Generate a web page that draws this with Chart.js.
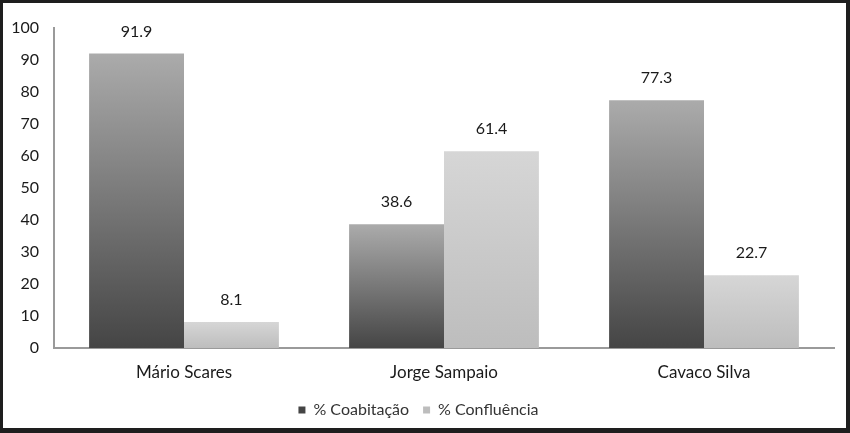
<!DOCTYPE html>
<html>
<head>
<meta charset="utf-8">
<script src="https://cdn.jsdelivr.net/npm/chart.js@4"></script>
<style>
  html, body { margin: 0; padding: 0; background: #fff; }
  #frame {
    width: 850px; height: 433px; box-sizing: border-box;
    border: 3px solid #1e1e1e; border-bottom-width: 5px; border-right-width: 4px;
    background: #fff;
  }
  #wrap { position: relative; width: 843px; height: 425px; }
</style>
</head>
<body>
<div id="frame"><div id="wrap"><canvas id="chart"></canvas></div></div>
<script>
// data
const presidents = ['Mário Scares', 'Jorge Sampaio', 'Cavaco Silva'];
const coabitacao = [91.9, 38.6, 77.3];
const confluencia = [8.1, 61.4, 22.7];
const seriesNames = ['% Coabitação', '% Confluência'];
const yTicks = [0, 10, 20, 30, 40, 50, 60, 70, 80, 90, 100];

const FONT = 'Lato, "Open Sans", sans-serif';

// per-bar vertical gradient, like the Excel fill
function barFill(topColor, bottomColor) {
  return function (ctx) {
    const chart = ctx.chart;
    const area = chart.chartArea;
    if (!area || ctx.type !== 'data') return bottomColor;
    const y = chart.scales.y;
    const top = y.getPixelForValue(ctx.raw);
    const bottom = y.getPixelForValue(0);
    const g = chart.ctx.createLinearGradient(0, top, 0, bottom);
    g.addColorStop(0, topColor);
    g.addColorStop(1, bottomColor);
    return g;
  };
}

const valueLabels = {
  id: 'valueLabels',
  afterDatasetsDraw(chart) {
    const c = chart.ctx;
    c.save();
    c.font = '16px ' + FONT;
    c.fillStyle = '#1a1a1a';
    c.textAlign = 'center';
    c.textBaseline = 'bottom';
    chart.data.datasets.forEach((ds, i) => {
      chart.getDatasetMeta(i).data.forEach((bar, j) => {
        c.fillText(ds.data[j].toFixed(1), bar.x, bar.y - 14);
      });
    });
    c.restore();
  }
};

new Chart(document.getElementById('chart'), {
  type: 'bar',
  data: {
    labels: presidents,
    datasets: [
      {
        label: seriesNames[0],
        data: coabitacao,
        backgroundColor: barFill('#ababab', '#454545'),
        borderWidth: 0
      },
      {
        label: seriesNames[1],
        data: confluencia,
        backgroundColor: barFill('#d6d6d6', '#bdbdbd'),
        borderWidth: 0
      }
    ]
  },
  options: {
    responsive: true,
    maintainAspectRatio: false,
    animation: false,
    layout: { padding: { top: 23, right: 12, bottom: 0, left: 0 } },
    datasets: { bar: { categoryPercentage: 0.73, barPercentage: 1 } },
    plugins: {
      legend: {
        position: 'bottom',
        labels: {
          font: { family: FONT, size: 16 },
          color: '#333',
          usePointStyle: true,
          pointStyle: 'rect',
          boxWidth: 7,
          boxHeight: 7,
          padding: 14
        }
      },
      tooltip: { enabled: false }
    },
    scales: {
      x: {
        grid: { display: false, drawTicks: false },
        border: { color: '#9a9a9a', width: 2 },
        ticks: { font: { family: FONT, size: 17 }, color: '#1a1a1a', padding: 14 },
        afterFit(s) { s.height = 40; }
      },
      y: {
        min: 0,
        max: 100,
        afterBuildTicks(s) { s.ticks = yTicks.map(v => ({ value: v })); },
        grid: { display: false, drawTicks: false },
        border: { color: '#9a9a9a', width: 2 },
        ticks: { font: { family: FONT, size: 16 }, color: '#1a1a1a', padding: 15 },
        afterFit(s) { s.width = 51; }
      }
    }
  },
  plugins: [valueLabels]
});
</script>
</body>
</html>
